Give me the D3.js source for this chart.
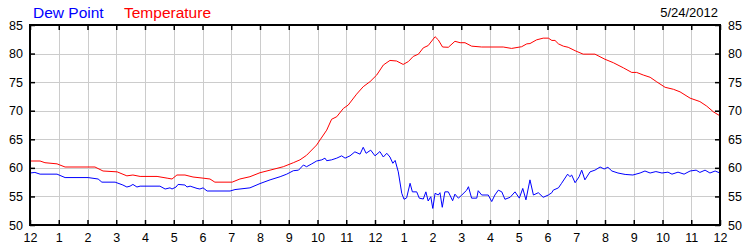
<!DOCTYPE html>
<html>
<head>
<meta charset="utf-8">
<script src="https://cdn.jsdelivr.net/npm/d3@7"></script>
<style>
  body { margin: 0; background: #fff; }
  svg { display: block; font-family: "Liberation Sans", Arial, sans-serif; }
</style>
</head>
<body>
<svg id="chart" width="750" height="250"></svg>
<script>
// data (hours since midnight, degrees F)
const dateLabel = "5/24/2012";
const hourLabels = ["12","1","2","3","4","5","6","7","8","9","10","11",
                    "12","1","2","3","4","5","6","7","8","9","10","11","12"];
const yTicks = [50, 55, 60, 65, 70, 75, 80, 85];

const tempHours = [0,0.35,0.52,0.94,1.04,1.22,2.26,2.54,3.03,3.37,3.58,3.83,4.42,4.77,4.94,5.11,5.39,5.67,6.02,6.26,6.43,7.03,7.3,7.65,8.0,8.35,8.81,9.16,9.39,9.62,9.97,10.09,10.32,10.49,10.67,10.9,11.07,11.36,11.59,11.83,12.06,12.29,12.52,12.75,12.98,13.16,13.33,13.51,13.68,13.85,14.09,14.2,14.35,14.55,14.78,14.96,15.13,15.36,15.71,16.46,16.75,17.1,17.28,17.39,17.62,17.85,18.03,18.15,18.26,18.38,18.55,18.72,18.96,19.24,19.65,20.0,20.29,20.64,20.93,21.1,21.33,21.57,21.8,22.09,22.38,22.61,22.96,23.3,23.54,23.77,24.0];
const tempValues = [61.2,61.2,60.9,60.7,60.5,60.15,60.15,59.45,59.3,58.6,58.75,58.5,58.5,58.2,58.05,58.75,58.75,58.4,58.2,58.05,57.5,57.5,58.05,58.45,59.15,59.6,60.2,60.9,61.4,62.2,64.0,64.9,66.6,68.5,68.95,70.4,71.0,72.9,74.2,75.1,76.25,78.0,78.8,78.7,78.1,78.6,79.5,79.9,81.0,81.4,82.95,82.4,81.15,81.1,82.15,81.9,81.9,81.3,81.15,81.15,80.9,81.2,81.7,81.75,82.4,82.7,82.7,82.3,82.3,81.7,81.3,81.1,80.5,79.9,79.9,79.0,78.4,77.5,76.7,76.7,76.25,75.85,75.05,74.1,73.75,73.3,72.2,71.6,70.8,69.8,69.1];

const dewHours = [0,0.17,0.35,0.94,1.22,2.02,2.37,2.5,2.96,3.23,3.37,3.48,3.58,3.72,3.83,4.52,4.7,4.87,4.94,5.08,5.15,5.39,5.46,5.57,5.81,5.91,6.02,6.16,6.96,7.13,7.65,8.0,8.35,8.7,8.93,9.16,9.34,9.51,9.62,9.8,9.97,10.15,10.26,10.32,10.49,10.67,10.84,10.96,11.13,11.3,11.48,11.59,11.69,11.85,12.0,12.17,12.29,12.41,12.52,12.62,12.7,12.81,12.93,13.01,13.1,13.22,13.3,13.45,13.54,13.68,13.77,13.85,13.94,14.01,14.09,14.2,14.26,14.34,14.43,14.55,14.7,14.78,14.9,15.02,15.19,15.25,15.36,15.54,15.59,15.71,15.94,16.06,16.17,16.29,16.41,16.52,16.7,16.87,17.02,17.14,17.25,17.39,17.51,17.68,17.85,18.03,18.15,18.2,18.38,18.49,18.7,18.78,18.84,18.96,19.1,19.19,19.3,19.48,19.65,19.83,19.97,20.1,20.24,20.45,20.7,20.97,21.22,21.39,21.57,21.77,21.98,22.19,22.33,22.54,22.75,22.96,23.17,23.3,23.48,23.65,23.83,24.0];
const dewValues = [59.1,59.2,58.9,58.9,58.3,58.3,58.05,57.5,57.5,57.0,56.65,56.8,57.1,56.65,56.8,56.8,56.3,56.5,56.3,56.65,57.1,57.0,56.65,56.8,56.4,56.3,56.5,55.95,55.95,56.2,56.5,57.25,57.9,58.45,58.9,59.5,59.6,60.5,60.2,60.7,61.2,61.4,61.7,61.25,61.4,61.7,62.1,61.7,62.1,62.8,62.4,63.6,62.55,63.1,62.1,62.85,61.9,62.55,61.9,60.8,61.3,59.3,55.55,54.5,54.75,57.3,55.8,55.8,54.7,54.55,55.8,54.2,54.95,52.9,55.55,55.25,55.65,53.1,55.8,55.8,54.25,55.4,54.7,55.25,56.1,56.7,54.7,54.7,56.0,55.25,55.25,54.1,55.25,56.1,55.8,54.5,54.85,55.8,54.7,56.4,54.4,57.9,55.25,55.65,54.85,55.25,55.65,56.1,56.5,57.3,58.9,58.45,58.75,57.4,58.45,59.6,57.9,59.3,59.6,60.15,59.8,60.1,59.45,59.1,58.85,58.75,59.1,59.45,59.1,59.35,59.1,59.25,58.9,59.25,58.9,59.45,59.6,59.2,59.6,59.1,59.45,59.1];

const svg = d3.select("#chart");
const plotLeft = 30, plotRight = 720, plotTop = 25, plotBottom = 225;

const x = d3.scaleLinear().domain([0, 24]).range([plotLeft, plotRight]);
const y = d3.scaleLinear().domain([50, 85]).range([plotBottom, plotTop]);

// grid
const grid = svg.append("g").attr("stroke", "#cccccc").attr("stroke-width", 1);
grid.selectAll("line.v")
  .data(d3.range(1, 24))
  .join("line")
  .attr("class", "v")
  .attr("x1", d => Math.round(x(d)) + 0.5).attr("x2", d => Math.round(x(d)) + 0.5)
  .attr("y1", plotTop).attr("y2", plotBottom);
grid.selectAll("line.h")
  .data(yTicks.slice(1, -1))
  .join("line")
  .attr("class", "h")
  .attr("y1", d => Math.round(y(d)) + 0.5).attr("y2", d => Math.round(y(d)) + 0.5)
  .attr("x1", plotLeft).attr("x2", plotRight);

// lines
const line = d3.line().x(d => x(d[0])).y(d => y(d[1]));
svg.append("path")
  .datum(d3.zip(dewHours, dewValues))
  .attr("fill", "none").attr("stroke", "#0000ff").attr("stroke-width", 1)
  .attr("d", line);
svg.append("path")
  .datum(d3.zip(tempHours, tempValues))
  .attr("fill", "none").attr("stroke", "#ff0000").attr("stroke-width", 1)
  .attr("d", line);

// axes
function styleAxis(g) {
  g.select(".domain").remove();
  g.selectAll(".tick line").attr("stroke", "#000").attr("stroke-width", 1.5);
  g.selectAll(".tick text").attr("fill", "#000").style("font-size", "12.5px")
    .style("font-family", "'Liberation Sans', Arial, sans-serif");
}

svg.append("g")
  .attr("transform", `translate(0,${plotBottom})`)
  .call(d3.axisBottom(x).tickValues(d3.range(0, 25)).tickFormat(d => hourLabels[d])
    .tickSize(-5).tickPadding(8))
  .call(styleAxis);

svg.append("g")
  .attr("transform", `translate(0,${plotTop})`)
  .call(d3.axisTop(x).tickValues(d3.range(0, 25)).tickFormat("").tickSize(-5))
  .call(styleAxis);

svg.append("g")
  .attr("transform", `translate(${plotLeft},0)`)
  .call(d3.axisLeft(y).tickValues(yTicks).tickSize(-5).tickPadding(7))
  .call(styleAxis);

svg.append("g")
  .attr("transform", `translate(${plotRight},0)`)
  .call(d3.axisRight(y).tickValues(yTicks).tickSize(-5).tickPadding(8))
  .call(styleAxis);

// frame
svg.append("rect")
  .attr("x", plotLeft).attr("y", plotTop)
  .attr("width", plotRight - plotLeft).attr("height", plotBottom - plotTop)
  .attr("fill", "none").attr("stroke", "#000").attr("stroke-width", 2);

// legend + date
svg.append("text").attr("x", 33).attr("y", 18)
  .attr("fill", "#0000ff").style("font-size", "15.5px").text("Dew Point");
svg.append("text").attr("x", 124).attr("y", 18)
  .attr("fill", "#ff0000").style("font-size", "15.5px").text("Temperature");
svg.append("text").attr("x", 718).attr("y", 17)
  .attr("text-anchor", "end").attr("fill", "#000").style("font-size", "13px").text(dateLabel);
</script>
</body>
</html>
